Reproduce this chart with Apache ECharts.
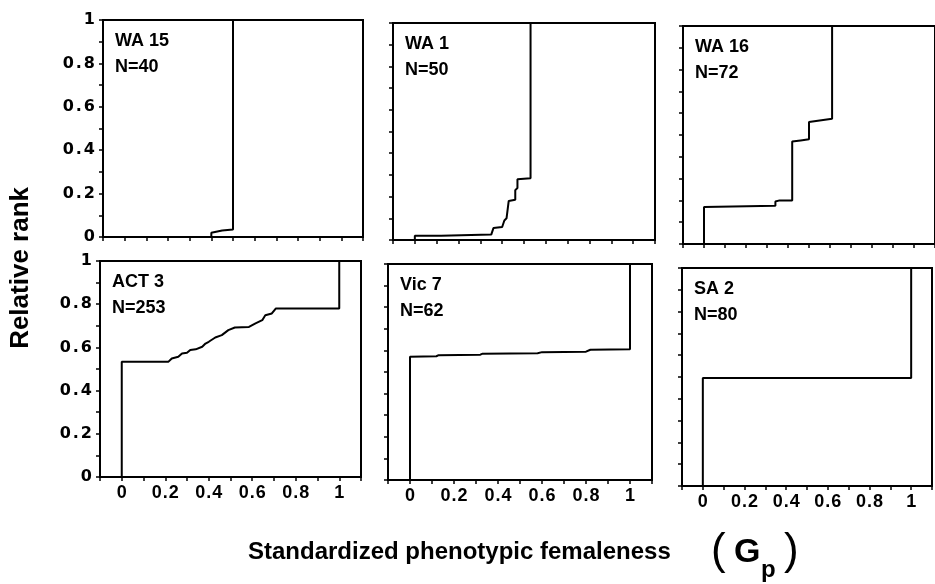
<!DOCTYPE html>
<html>
<head>
<meta charset="utf-8">
<script src="https://cdn.jsdelivr.net/npm/echarts@6/dist/echarts.min.js"></script>
<style>
  html, body { margin: 0; padding: 0; background: #fff; }
  #chart { width: 935px; height: 584px; }
</style>
</head>
<body>
<div id="chart"></div>
<script>
// population names and sample sizes
const panelNames = ['WA 15', 'WA 1', 'WA 16', 'ACT 3', 'Vic 7', 'SA 2'];
const panelN = ['N=40', 'N=50', 'N=72', 'N=253', 'N=62', 'N=80'];

// step curves: [standardized femaleness, relative rank]
const wa15 = [[0, 0], [0.40, 0], [0.40, 0.02], [0.45, 0.03], [0.50, 0.035], [0.50, 1]];
const wa1 = [[0, 0], [0, 0.02], [0.12, 0.02], [0.12, 0.025], [0.35, 0.025], [0.36, 0.055],
  [0.40, 0.06], [0.41, 0.09], [0.42, 0.10], [0.43, 0.18], [0.46, 0.185], [0.46, 0.23],
  [0.47, 0.24], [0.47, 0.28], [0.53, 0.285], [0.53, 1]];
const wa16 = [[0, 0], [0, 0.17], [0.34, 0.175], [0.34, 0.195], [0.36, 0.2], [0.42, 0.2],
  [0.42, 0.47], [0.46, 0.475], [0.50, 0.48], [0.50, 0.56], [0.61, 0.575], [0.61, 1]];
const act3 = [[0, 0], [0, 0.534], [0.215, 0.534], [0.23, 0.549], [0.26, 0.557], [0.277, 0.572],
  [0.30, 0.575], [0.315, 0.588], [0.34, 0.591], [0.37, 0.603], [0.385, 0.618], [0.40, 0.626],
  [0.43, 0.646], [0.46, 0.657], [0.49, 0.68], [0.52, 0.692], [0.585, 0.695], [0.615, 0.711],
  [0.646, 0.726], [0.66, 0.749], [0.69, 0.757], [0.708, 0.78], [1.0, 0.78], [1.0, 1]];
const vic7 = [[0, 0], [0, 0.571], [0.12, 0.573], [0.13, 0.578], [0.32, 0.58], [0.33, 0.585],
  [0.58, 0.587], [0.60, 0.592], [0.80, 0.594], [0.82, 0.603], [1.0, 0.605], [1.0, 1]];
const sa2 = [[0, 0], [0, 0.495], [1.0, 0.495], [1.0, 1]];

const curves = [wa15, wa1, wa16, act3, vic7, sa2];

// panel boxes in px
const boxes = [
  { left: 103, top: 20, width: 260, height: 217 },
  { left: 393, top: 23, width: 262, height: 217 },
  { left: 683, top: 26, width: 262, height: 218 },
  { left: 100, top: 261, width: 261, height: 216 },
  { left: 388, top: 264, width: 264, height: 216 },
  { left: 682, top: 268, width: 262, height: 218 }
];

function tickText(v) {
  const k = Math.round(v * 10);
  if (k < 0 || k > 10 || k % 2) return '';
  if (k === 0) return '0';
  if (k === 10) return '1';
  return '{d|0}{p|.}{d|' + k + '}';
}

const chart = echarts.init(document.getElementById('chart'));

const grid = [], xAxis = [], yAxis = [], series = [], graphic = [];

boxes.forEach((b, i) => {
  grid.push({
    left: b.left, top: b.top, width: b.width, height: b.height,
    show: true, borderColor: '#000', borderWidth: 2, backgroundColor: 'transparent'
  });
  const xFont = { fontFamily: 'Liberation Sans', fontWeight: 'bold', fontSize: 18, color: '#000' };
  xAxis.push({
    type: 'value', gridIndex: i, min: -0.1, max: 1.1, interval: 0.1,
    axisLine: { onZero: false, lineStyle: { color: '#000', width: 2 } },
    axisTick: { show: true, length: 4, lineStyle: { color: '#000', width: 1.5 } },
    splitLine: { show: false },
    axisLabel: {
      show: i >= 3, margin: 7, formatter: tickText, showMinLabel: true, showMaxLabel: true,
      ...xFont,
      rich: { d: xFont, p: { ...xFont, padding: [0, 1, 0, 1] } }
    }
  });
  const yFont = { fontFamily: 'DejaVu Sans', fontWeight: 'bold', fontSize: 16, color: '#000' };
  yAxis.push({
    type: 'value', gridIndex: i, min: 0, max: 1, interval: 0.1,
    axisLine: { onZero: false, lineStyle: { color: '#000', width: 2 } },
    axisTick: { show: true, length: 4, lineStyle: { color: '#000', width: 1.5 } },
    splitLine: { show: false },
    axisLabel: {
      show: i % 3 === 0, margin: 8, formatter: tickText, showMinLabel: true, showMaxLabel: true,
      ...yFont,
      rich: { d: yFont, p: { ...yFont, padding: [0, 2, 0, 2] } }
    }
  });
  series.push({
    type: 'line', xAxisIndex: i, yAxisIndex: i, data: curves[i],
    showSymbol: false, silent: true, animation: false,
    lineStyle: { color: '#000', width: 2 }
  });
  graphic.push({
    type: 'text', left: b.left + 12, top: b.top + 12,
    style: { text: panelNames[i], font: 'bold 18px "Liberation Sans"', fill: '#000' }
  });
  graphic.push({
    type: 'text', left: b.left + 12, top: b.top + 38,
    style: { text: panelN[i], font: 'bold 18px "Liberation Sans"', fill: '#000' }
  });
});

// axis titles
graphic.push({
  type: 'text', left: 8, top: 187, rotation: Math.PI / 2,
  style: { text: 'Relative rank', font: 'bold 26px "Liberation Sans"', fill: '#000' }
});
graphic.push({
  type: 'text', left: 248, top: 540,
  style: { text: 'Standardized phenotypic femaleness', font: 'bold 24px "Liberation Sans"', fill: '#000' }
});
graphic.push({
  type: 'text', left: 711, top: 530,
  style: { text: '(', font: '44px "Liberation Sans"', fill: '#000' }
});
graphic.push({
  type: 'text', left: 734, top: 536,
  style: { text: 'G', font: 'bold 34px "Liberation Sans"', fill: '#000' }
});
graphic.push({
  type: 'text', left: 761, top: 558,
  style: { text: 'p', font: 'bold 24px "Liberation Sans"', fill: '#000' }
});
graphic.push({
  type: 'text', left: 784, top: 530,
  style: { text: ')', font: '44px "Liberation Sans"', fill: '#000' }
});

chart.setOption({
  animation: false,
  grid, xAxis, yAxis, series, graphic
});
</script>
</body>
</html>
